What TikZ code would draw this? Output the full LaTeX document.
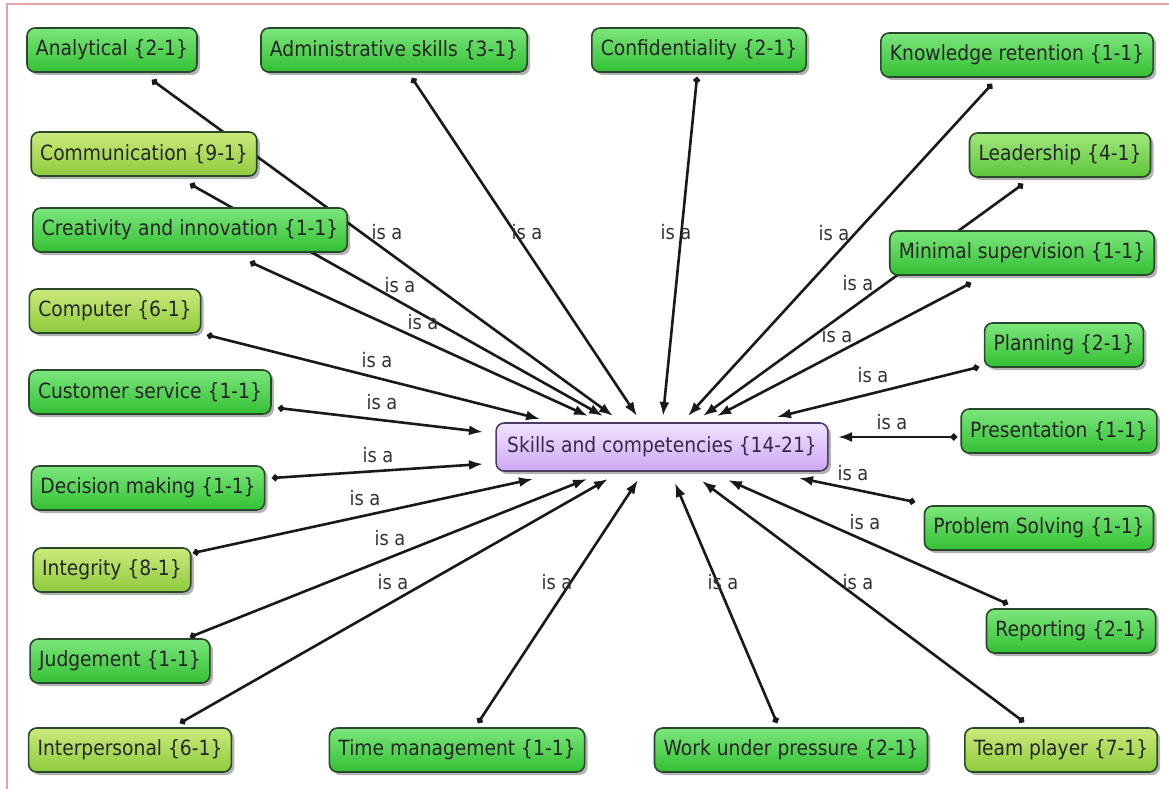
\documentclass[tikz,border=0pt]{standalone}
\usepackage{fontspec}
\setmainfont{DejaVu Sans}[FakeStretch=0.89]
\usetikzlibrary{arrows.meta,shadows,backgrounds}

\definecolor{greentop}{HTML}{7CE67C}
\definecolor{greenbot}{HTML}{33C033}
\definecolor{midtop}{HTML}{A2E67C}
\definecolor{midbot}{HTML}{5CC63A}
\definecolor{limetop}{HTML}{CBEA7C}
\definecolor{limebot}{HTML}{8DCB3C}
\definecolor{boxline}{HTML}{2A482A}
\definecolor{skilltop}{HTML}{F1E3FF}
\definecolor{skillbot}{HTML}{CDA6F4}
\definecolor{skillline}{HTML}{4E3B63}
\definecolor{framepink}{HTML}{E8A3A3}

\tikzset{
  concept/.style={draw=boxline, line width=1.6pt, rounded corners=8pt,
    minimum height=44pt, inner xsep=9pt,
    font=\fontsize{21}{25}\selectfont, text=black!85,
    drop shadow={shadow xshift=3pt, shadow yshift=-3pt, fill=black, opacity=0.3}},
  greenbox/.style={concept, top color=greentop, bottom color=greenbot},
  midbox/.style={concept, top color=midtop, bottom color=midbot},
  limebox/.style={concept, top color=limetop, bottom color=limebot},
  skillbox/.style={concept, top color=skilltop, bottom color=skillbot,
    draw=skillline, text=skillline!70!black, minimum height=48pt, inner xsep=11pt},
  isa/.style={line width=2.6pt, black!90,
    {Circle[length=6.5pt]}-{Latex[length=14pt,width=10pt]}},
  isalabel/.style={font=\fontsize{20}{24}\selectfont, text=black!80, inner sep=0pt}
}

\begin{document}
\begin{tikzpicture}[x=1pt,y=-1pt]
  \useasboundingbox (0,0) rectangle (1169,789);
  \draw[framepink, line width=1.5pt] (7,789) |- (1169,4);

  % centre
  \node[skillbox] (skills) at (662,447) {Skills and competencies \{14-21\}};

  % top row
  \node[greenbox] (anal) at (112,50) {Analytical \{2-1\}};
  \node[greenbox] (admin) at (394,50) {Administrative skills \{3-1\}};
  \node[greenbox] (conf) at (699,50) {Confidentiality \{2-1\}};
  \node[greenbox] (know) at (1017,55) {Knowledge retention \{1-1\}};

  % left column
  \node[limebox] (comm) at (144,154) {Communication \{9-1\}};
  \node[greenbox] (creat) at (190,230) {Creativity and innovation \{1-1\}};
  \node[limebox] (comp) at (115,311) {Computer \{6-1\}};
  \node[greenbox] (cust) at (150,392) {Customer service \{1-1\}};
  \node[greenbox] (deci) at (148,488) {Decision making \{1-1\}};
  \node[limebox] (integ) at (112,570) {Integrity \{8-1\}};
  \node[greenbox] (judg) at (120,661) {Judgement \{1-1\}};
  \node[limebox] (inter) at (130,750) {Interpersonal \{6-1\}};

  % bottom row
  \node[greenbox] (time) at (457,750) {Time management \{1-1\}};
  \node[greenbox] (work) at (791,750) {Work under pressure \{2-1\}};
  \node[limebox] (team) at (1061,750) {Team player \{7-1\}};

  % right column
  \node[midbox] (lead) at (1060,155) {Leadership \{4-1\}};
  \node[greenbox] (mini) at (1022,253) {Minimal supervision \{1-1\}};
  \node[greenbox] (plan) at (1064,345) {Planning \{2-1\}};
  \node[greenbox] (pres) at (1059,431) {Presentation \{1-1\}};
  \node[greenbox] (prob) at (1039,528) {Problem Solving \{1-1\}};
  \node[greenbox] (repo) at (1071,631) {Reporting \{2-1\}};

  % links, behind the boxes
  \begin{scope}[on background layer]
    \fill[white] (0,0) rectangle (1169,789);
    \foreach \src/\sx/\sy/\ex/\ey in {
        anal/40/30/-49/-31, comm/46/30/-59/-31, creat/60/32/-74/-31,
        admin/18/28/-25/-31, conf/-2/27/1/-31, know/-25/29/26/-31,
        lead/-37/29/41/-31, mini/-51/30/55/-31, plan/-85/22/115/-30,
        pres/-102/6/176/-10, prob/-124/-26/137/31, repo/-63/-27/66/33,
        team/-37/-28/40/34, work/-14/-27/13/36, time/21/-27/-24/33,
        inter/50/-27/-54/32, judg/70/-24/-75/32, integ/81/-17/-129/32,
        deci/124/-10/-179/17, cust/128/16/-179/-15, comp/92/24/-122/-28}
      \draw[isa] ([shift={(\sx,\sy)}]\src.center) -- ([shift={(\ex,\ey)}]skills.center);
  \end{scope}

  % link labels
  \foreach \lx/\ly [count=\i] in {
      387/232, 400/285, 423/322, 527/232, 676/232, 834/233,
      858/283, 837/335, 873/375, 892/422, 853/473, 865/522,
      858/582, 723/582, 557/582, 393/582, 390/538, 365/498,
      378/455, 382/402, 377/360}
    \node[isalabel] (isa\i) at (\lx,\ly) {is a};
\end{tikzpicture}
\end{document}
